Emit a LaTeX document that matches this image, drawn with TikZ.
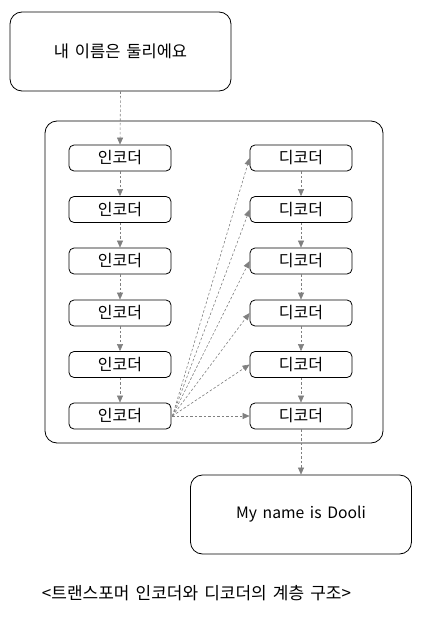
\documentclass[tikz,border=0pt]{standalone}
\usepackage{fontspec}
\setmainfont{Noto Sans CJK KR}[WordSpace=1.6]
\usetikzlibrary{arrows.meta}
\begin{document}
\begin{tikzpicture}[x=1pt,y=-1pt,
  bigbox/.style={draw=black,line width=0.8pt,rounded corners=12pt,minimum width=221pt,minimum height=79pt,inner sep=0pt,font=\fontsize{16.5}{18}\selectfont},
  unitbox/.style={draw=black,line width=0.8pt,rounded corners=5pt,minimum width=102pt,minimum height=26pt,inner sep=0pt,font=\fontsize{16}{18}\selectfont},
  flow/.style={line width=0.6pt,dash pattern=on 2.5pt off 2pt,-{Triangle[length=7pt,width=6pt]},color=gray}]
\useasboundingbox (0,0) rectangle (421,618);
\node[bigbox] (inp) at (120.5,51.5) {내 이름은 둘리에요};
\node[draw=black,line width=0.8pt,rounded corners=12pt,minimum width=338pt,minimum height=322pt,inner sep=0pt] (cont) at (214,282) {};
\foreach \i/\y in {1/158,2/209.5,3/261,4/313,5/364.5,6/416}{
  \node[unitbox] (e\i) at (120,\y) {인코더};
  \node[unitbox] (d\i) at (301,\y) {디코더};
}
\node[bigbox,font=\fontsize{15.7}{18}\selectfont] (out) at (301,514.5) {My name is Dooli};
\node[font=\fontsize{17}{19}\selectfont] (cap) at (196.5,593) {<트랜스포머 인코더와 디코더의 계층 구조>};
\draw[flow] (inp.south) -- (e1.north);
\foreach \i/\j in {1/2,2/3,3/4,4/5,5/6}{
  \draw[flow] (e\i.south) -- (e\j.north);
  \draw[flow] (d\i.south) -- (d\j.north);
}
\coordinate (src) at ([xshift=1pt]e6.east);
\foreach \i in {1,...,6}{
  \draw[flow] (src) -- (d\i.west);
}
\draw[flow] (d6.south) -- (out.north);
\end{tikzpicture}
\end{document}
